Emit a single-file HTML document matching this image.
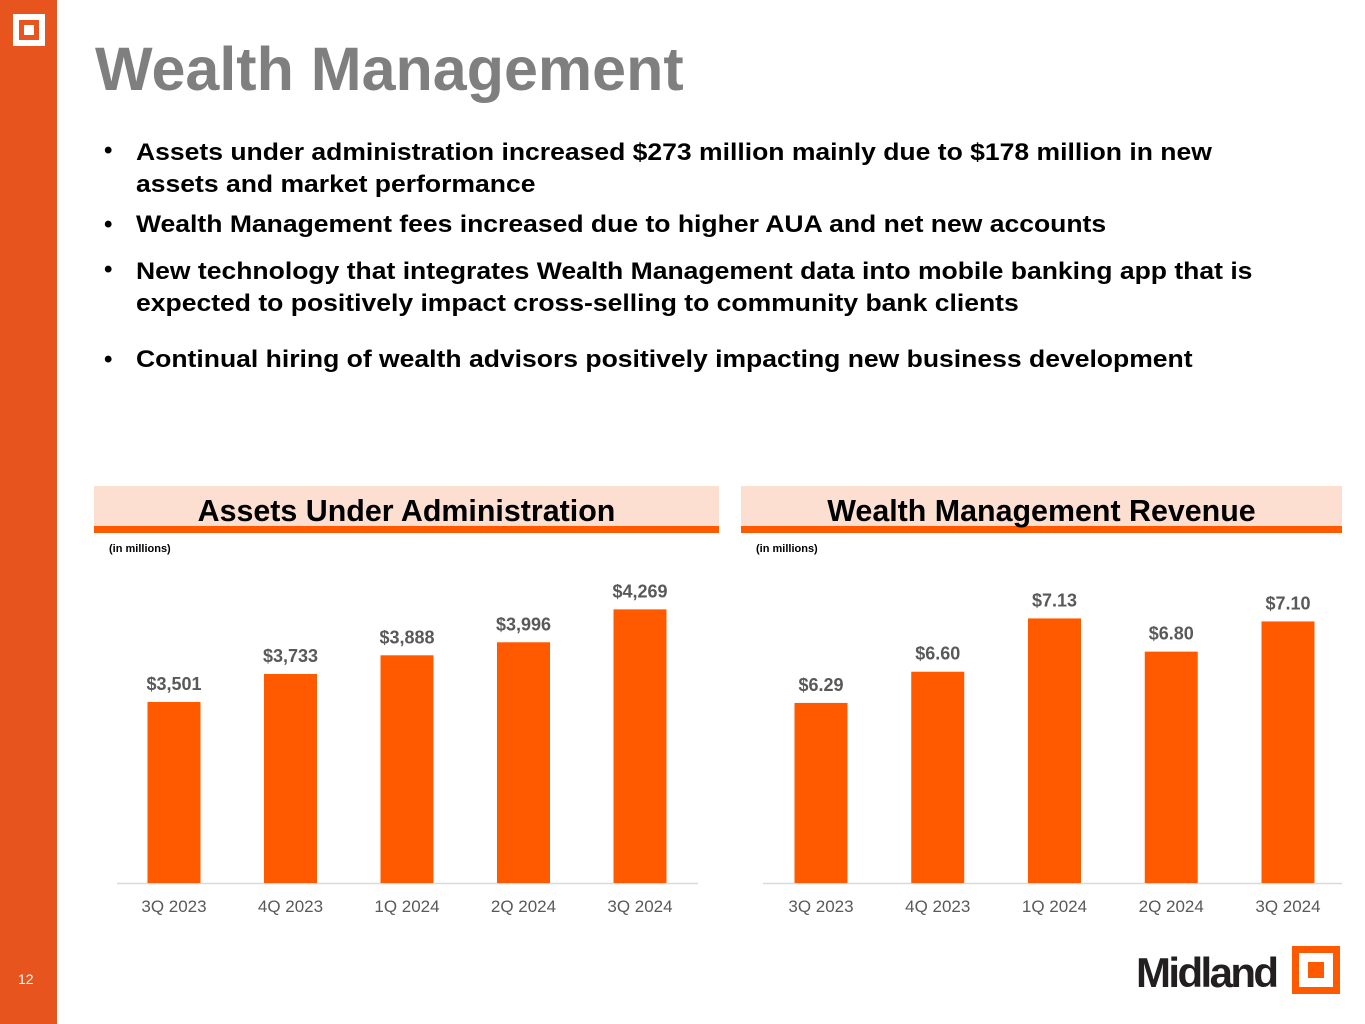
<!DOCTYPE html>
<html><head><meta charset="utf-8">
<style>
body{margin:0;width:1365px;height:1024px;position:relative;background:#fff;overflow:hidden;font-family:"Liberation Sans",Arial,sans-serif}
.abs{position:absolute;white-space:nowrap}
.b{font-weight:bold;font-size:24px;color:#000}
.sx{transform:scaleX(1.105);transform-origin:0 0}
</style></head><body>
<div class="abs" style="left:0;top:0;width:57px;height:1024px;background:#E8541E"></div>
<div class="abs" style="left:13px;top:14px;width:32px;height:32px;background:#fff"><div style="position:absolute;left:6px;top:6px;width:20px;height:20px;background:#E8541E"><div style="position:absolute;left:5px;top:5px;width:10px;height:10px;background:#fff"></div></div></div>
<div class="abs" style="left:18px;top:971px;font-size:14px;color:#fff">12</div>
<div class="abs" style="left:95px;top:34px;font-size:61px;font-weight:bold;color:#7f7f7f">Wealth Management</div>
<div>
<div class="abs b" style="left:104px;top:137px">•</div>
<div class="abs b sx" style="left:136px;top:137px;line-height:32px">Assets under administration increased $273 million mainly due to $178 million in new<br>assets and market performance</div>
<div class="abs b" style="left:104px;top:211px">•</div>
<div class="abs b sx" style="left:136px;top:211px">Wealth Management fees increased due to higher AUA and net new accounts</div>
<div class="abs b" style="left:104px;top:256px">•</div>
<div class="abs b sx" style="left:136px;top:256px;line-height:32px">New technology that integrates Wealth Management data into mobile banking app that is<br>expected to positively impact cross-selling to community bank clients</div>
<div class="abs b" style="left:104px;top:346px">•</div>
<div class="abs b sx" style="left:136px;top:346px">Continual hiring of wealth advisors positively impacting new business development</div>
</div>
<svg class="abs" style="left:0;top:0" width="1365" height="1024" id="svg"></svg>
<div class="abs" style="left:1135px;top:946px;width:205px;height:50px">
<span style="position:absolute;left:1px;top:3px;font-size:42px;font-weight:bold;color:#231f20;letter-spacing:-2.6px">Midland</span>
<div style="position:absolute;left:157px;top:0;width:48px;height:48px;background:#FF5A00"><div style="position:absolute;left:7px;top:7px;width:34px;height:34px;background:#fff"><div style="position:absolute;left:9px;top:9px;width:16px;height:16px;background:#FF5A00"></div></div></div>
</div>
<script>
const cats=["3Q 2023","4Q 2023","1Q 2024","2Q 2024","3Q 2024"];
const auaValues=[3501,3733,3888,3996,4269];
const auaLabels=["$3,501","$3,733","$3,888","$3,996","$4,269"];
const revValues=[6.29,6.60,7.13,6.80,7.10];
const revLabels=["$6.29","$6.60","$7.13","$6.80","$7.10"];
const NS="http://www.w3.org/2000/svg";
const svg=document.getElementById('svg');
function el(t,a,txt){const e=document.createElementNS(NS,t);for(const k in a)e.setAttribute(k,a[k]);if(txt!==undefined)e.textContent=txt;svg.appendChild(e);return e;}
function chart(c){
  let e=el('rect',{x:c.hx,y:486,width:c.hw,height:40,fill:'#FCDFD1'});
  
  
  e=el('rect',{x:c.hx,y:526,width:c.hw,height:7,fill:'#FF5A00'});
  
  
  e=el('text',{x:c.hx+c.hw/2,y:521,'text-anchor':'middle','font-size':30.4,'font-weight':'bold',fill:'#000','font-family':'Liberation Sans, sans-serif'},c.title);
  
  
  e=el('text',{x:c.hx+15,y:552,'font-size':11,'font-weight':'bold',fill:'#000','font-family':'Liberation Sans, sans-serif'},'(in millions)');
  
  
  const base=883;
  const y=v=>base-(v-c.min)*c.scale;
  const xc=i=>c.x0+i*c.step;
  e=el('line',{x1:c.ax1,x2:c.ax2,y1:base+0.5,y2:base+0.5,stroke:'#d9d9d9','stroke-width':1.5});
  
  
  c.vals.forEach((v,i)=>{
    let b=el('rect',{x:xc(i)-26.5,y:y(v),width:53,height:base-y(v),fill:'#FF5A00'});
    
    
    let t=el('text',{x:xc(i),y:y(v)-12,'text-anchor':'middle','font-size':18,'font-weight':'bold',fill:'#595959','font-family':'Liberation Sans, sans-serif'},c.labels[i]);
    
    
    let l=el('text',{x:xc(i),y:912,'text-anchor':'middle','font-size':17,fill:'#595959','font-family':'Liberation Sans, sans-serif'},cats[i]);
    
    
  });
}
chart({id:'aua',title:'Assets Under Administration',hx:94,hw:625,vals:auaValues,labels:auaLabels,min:2000,scale:0.1206,x0:174,step:116.5,ax1:117,ax2:698});
chart({id:'revenue',title:'Wealth Management Revenue',hx:741,hw:601,vals:revValues,labels:revLabels,min:4.5,scale:100.6,x0:821,step:116.75,ax1:763,ax2:1342});
</script>
</body></html>
